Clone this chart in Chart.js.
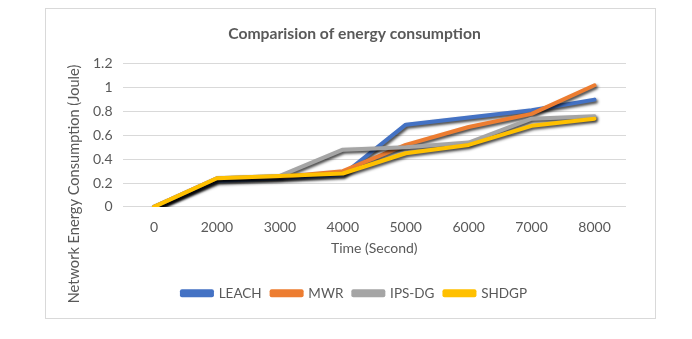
<!DOCTYPE html>
<html lang="en">
<head>
    <meta charset="UTF-8">
    <title>Comparision of energy consumption</title>
    <script src="https://cdn.jsdelivr.net/npm/chart.js"></script>
    <style>
        body { margin: 0; background: #fff; }
        #box {
            position: absolute; left: 45px; top: 8px;
            width: 609px; height: 309px;
            border: 1px solid #d9d9d9; background: #fff;
        }
    </style>
</head>
<body>
    <div id="box"><canvas id="grafica"></canvas></div>

    <script>
        // data
        const tiempos = ['0', '2000', '3000', '4000', '5000', '6000', '7000', '8000'];
        const leach = [0, 0.22, 0.24, 0.27, 0.69, 0.75, 0.81, 0.90];
        const mwr   = [0, 0.24, 0.25, 0.30, 0.52, 0.67, 0.78, 1.02];
        const ipsdg = [0, 0.24, 0.26, 0.48, 0.50, 0.54, 0.74, 0.76];
        const shdgp = [0, 0.24, 0.26, 0.28, 0.45, 0.52, 0.68, 0.74];

        const gris = '#595959';
        const fuente = 'Lato, "Open Sans", sans-serif';

        // drop shadow under the lines, like the Excel original
        const sombra = {
            id: 'sombra',
            beforeDatasetDraw(chart) {
                const c = chart.ctx;
                c.save();
                c.shadowColor = 'rgba(0,0,0,0.75)';
                c.shadowBlur = 3;
                c.shadowOffsetX = 1.5;
                c.shadowOffsetY = 2;
            },
            afterDatasetDraw(chart) {
                chart.ctx.restore();
            }
        };

        // y title centred on the whole chart box, as Excel does
        const tituloY = {
            id: 'tituloY',
            afterDraw(chart) {
                const c = chart.ctx;
                c.save();
                c.translate(28, 175);
                c.rotate(-Math.PI / 2);
                c.fillStyle = gris;
                c.font = '14.6px ' + fuente;
                c.textAlign = 'center';
                c.textBaseline = 'middle';
                c.fillText('Network Energy Consumption (Joule)', 0, 0);
                c.restore();
            }
        };

        function serie(nombre, valores, color, orden) {
            return {
                label: nombre,
                data: valores,
                borderColor: color,
                backgroundColor: color,
                borderWidth: 4,
                pointRadius: 0,
                tension: 0,
                order: orden,
                borderCapStyle: 'round',
                borderJoinStyle: 'round'
            };
        }

        const ctx = document.getElementById('grafica').getContext('2d');
        new Chart(ctx, {
            type: 'line',
            data: {
                labels: tiempos,
                datasets: [
                    serie('LEACH', leach, '#4472c4', 4),
                    serie('MWR', mwr, '#ed7d31', 3),
                    serie('IPS-DG', ipsdg, '#a5a5a5', 2),
                    serie('SHDGP', shdgp, '#ffc000', 1)
                ]
            },
            plugins: [sombra, tituloY],
            options: {
                responsive: true,
                maintainAspectRatio: false,
                animation: false,
                layout: { padding: { left: 37, right: 29, top: 12, bottom: 8 } },
                plugins: {
                    title: {
                        display: true,
                        text: 'Comparision of energy consumption',
                        color: gris,
                        font: { family: fuente, size: 15.7, weight: 'bold' },
                        padding: { top: 4, bottom: 20 }
                    },
                    legend: {
                        position: 'bottom',
                        labels: {
                            color: gris,
                            font: { family: fuente, size: 13.5 },
                            boxWidth: 30,
                            boxHeight: 4,
                            padding: 10,
                            sort: (a, b) => a.datasetIndex - b.datasetIndex
                        }
                    },
                    tooltip: { enabled: false }
                },
                scales: {
                    x: {
                        offset: true,
                        grid: { display: false },
                        border: { display: false },
                        ticks: { color: gris, font: { family: fuente, size: 14 }, padding: 4 },
                        title: {
                            display: true, text: 'Time (Second)', color: gris,
                            font: { family: fuente, size: 14 }, padding: { top: 0, bottom: 20 }
                        }
                    },
                    y: {
                        min: 0, max: 1.2,
                        ticks: {
                            stepSize: 0.2, color: gris, font: { family: fuente, size: 14 }, padding: 10,
                            callback: v => String(Number(v.toFixed(1)))
                        },
                        grid: { color: '#d9d9d9', lineWidth: 1, drawTicks: false },
                        border: { display: false }
                    }
                }
            }
        });
    </script>
</body>
</html>
